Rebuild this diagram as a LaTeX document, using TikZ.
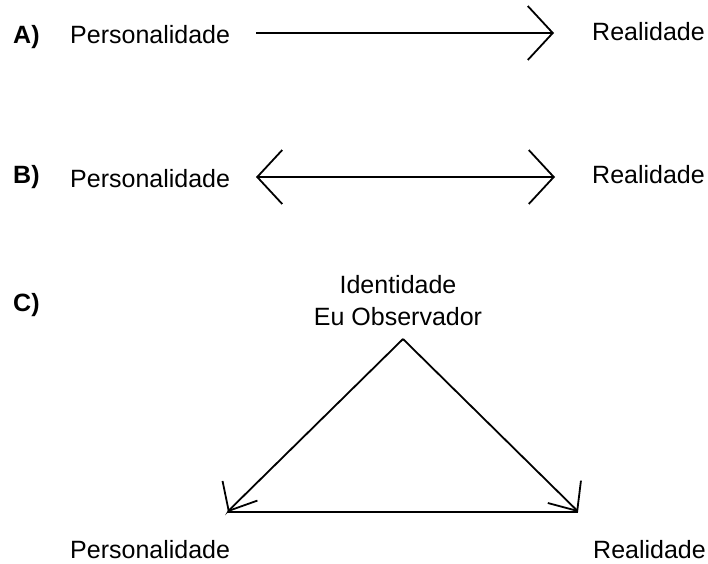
\documentclass[tikz,border=0pt]{standalone}
\usepackage{fontspec}
\setmainfont{Liberation Sans}
\usetikzlibrary{arrows.meta}
\begin{document}
\begin{tikzpicture}[x=1pt,y=-1pt,
  lbl/.style={font=\fontsize{25}{32}\selectfont, inner sep=0pt, anchor=base west},
  tag/.style={font=\fontsize{25}{30}\selectfont\bfseries, inner sep=0pt, anchor=base west},
  conn/.style={line width=1.8pt},
  bigbarb/.tip={Straight Barb[length=25pt,width=54pt,line width=1.8pt]},
  smallbarb/.tip={Straight Barb[length=23pt,width=40pt,line width=1.8pt]}]
\useasboundingbox (0,0) rectangle (708,563);
% A
\node[tag] (tA) at (13,43) {A)};
\node[lbl] (pA) at (70,43) {Personalidade};
\node[lbl] (rA) at (592,40) {Realidade};
\coordinate (a1) at (256,33);
\coordinate (a2) at (554,33);
\draw[conn, -{bigbarb}] (a1) -- (a2);
% B
\node[tag] (tB) at (13,183) {B)};
\node[lbl] (pB) at (70,187) {Personalidade};
\node[lbl] (rB) at (592,183) {Realidade};
\coordinate (b1) at (256,177);
\coordinate (b2) at (555,177);
\draw[conn, {bigbarb}-{bigbarb}] (b1) -- (b2);
% C
\node[tag] (tC) at (13,311) {C)};
\node[font=\fontsize{25}{32}\selectfont, inner sep=0pt, anchor=base] (id1) at (398,293) {Identidade};
\node[font=\fontsize{25}{32}\selectfont, inner sep=0pt, anchor=base] (id2) at (398,325) {Eu Observador};
\coordinate (apex) at (403,339);
\coordinate (cl) at (228,512);
\coordinate (cr) at (578,512);
\coordinate (clp) at ([shift={(0.98,-1.74)}]cl);
\coordinate (crp) at ([shift={(-1.12,-1.66)}]cr);
\draw[conn, -{smallbarb}] (apex) -- (clp) -- (cl);
\draw[conn, -{smallbarb}] (apex) -- (crp) -- (cr);
\draw[conn] (cl) -- (cr);
\node[lbl] (pC) at (70,558) {Personalidade};
\node[lbl] (rC) at (593,558) {Realidade};
\end{tikzpicture}
\end{document}
